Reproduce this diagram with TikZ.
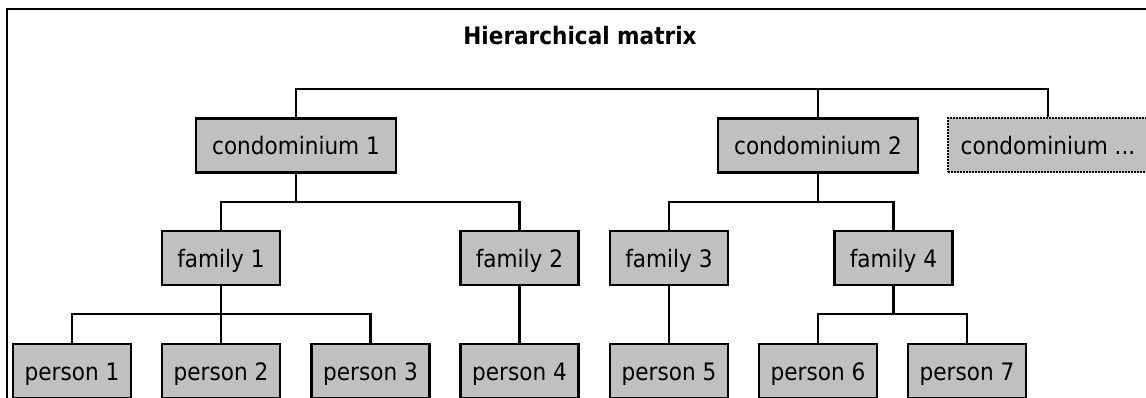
\documentclass[tikz,border=0pt]{standalone}
\usepackage{fontspec}
\setmainfont{DejaVu Sans Condensed}
\definecolor{boxgray}{HTML}{C0C0C0}
\begin{document}
\begin{tikzpicture}[x=1pt,y=-1pt,
  box/.style={draw=black, line width=2.2pt, fill=boxgray, inner sep=0pt,
    minimum height=54pt, text height=18pt, text depth=0pt,
    font=\fontsize{24}{28}\selectfont},
  wide/.style={box, minimum width=200pt},
  narrow/.style={box, minimum width=118pt},
  open/.style={wide, line width=2pt, dash pattern=on 2pt off 1pt},
  link/.style={line width=2.2pt},
  frame/.style={line width=2.8pt},
]
\useasboundingbox (0,0) rectangle (1146,398);

% outer frame (top and left edges)
\coordinate (frameTR) at (1150,9);
\coordinate (frameTL) at (7,9);
\coordinate (frameBL) at (7,402);
\draw[frame] (frameTR) -- (frameTL) -- (frameBL);

% title
\node[anchor=base, font=\fontsize{24}{28}\selectfont\bfseries] (title) at (580,45) {Hierarchical matrix};

% condominiums
\node[wide] (c1) at (296,145.5) {condominium 1};
\node[wide] (c2) at (818,145.5) {condominium 2};
\node[open] (c3) at (1048,145.5) {condominium ...};

% families
\node[narrow] (f1) at (221,258) {family 1};
\node[narrow] (f2) at (519.5,258) {family 2};
\node[narrow] (f3) at (669,258) {family 3};
\node[narrow] (f4) at (893.5,258) {family 4};

% persons
\node[narrow] (p1) at (72,371) {person 1};
\node[narrow] (p2) at (221,371) {person 2};
\node[narrow] (p3) at (370.5,371) {person 3};
\node[narrow] (p4) at (519.5,371) {person 4};
\node[narrow] (p5) at (669,371) {person 5};
\node[narrow] (p6) at (818,371) {person 6};
\node[narrow] (p7) at (967,371) {person 7};

% bus levels
\coordinate (busTop) at (0,89);
\coordinate (busFam) at (0,202);
\coordinate (busPer) at (0,314);

% top level
\draw[link] (c1.north) -- (c1.north |- busTop) -- (c3.north |- busTop) -- (c3.north);
\draw[link] (c2.north) -- (c2.north |- busTop);

% condominium 1 -> families 1, 2
\draw[link] (c1.south) -- (c1.south |- busFam);
\draw[link] (f1.north) -- (f1.north |- busFam) -- (f2.north |- busFam) -- (f2.north);

% condominium 2 -> families 3, 4
\draw[link] (c2.south) -- (c2.south |- busFam);
\draw[link] (f3.north) -- (f3.north |- busFam) -- (f4.north |- busFam) -- (f4.north);

% family 1 -> persons 1, 2, 3
\draw[link] (f1.south) -- (p2.north);
\draw[link] (p1.north) -- (p1.north |- busPer) -- (p3.north |- busPer) -- (p3.north);

% family 2 -> person 4, family 3 -> person 5
\draw[link] (f2.south) -- (p4.north);
\draw[link] (f3.south) -- (p5.north);

% family 4 -> persons 6, 7
\draw[link] (f4.south) -- (f4.south |- busPer);
\draw[link] (p6.north) -- (p6.north |- busPer) -- (p7.north |- busPer) -- (p7.north);
\end{tikzpicture}
\end{document}
